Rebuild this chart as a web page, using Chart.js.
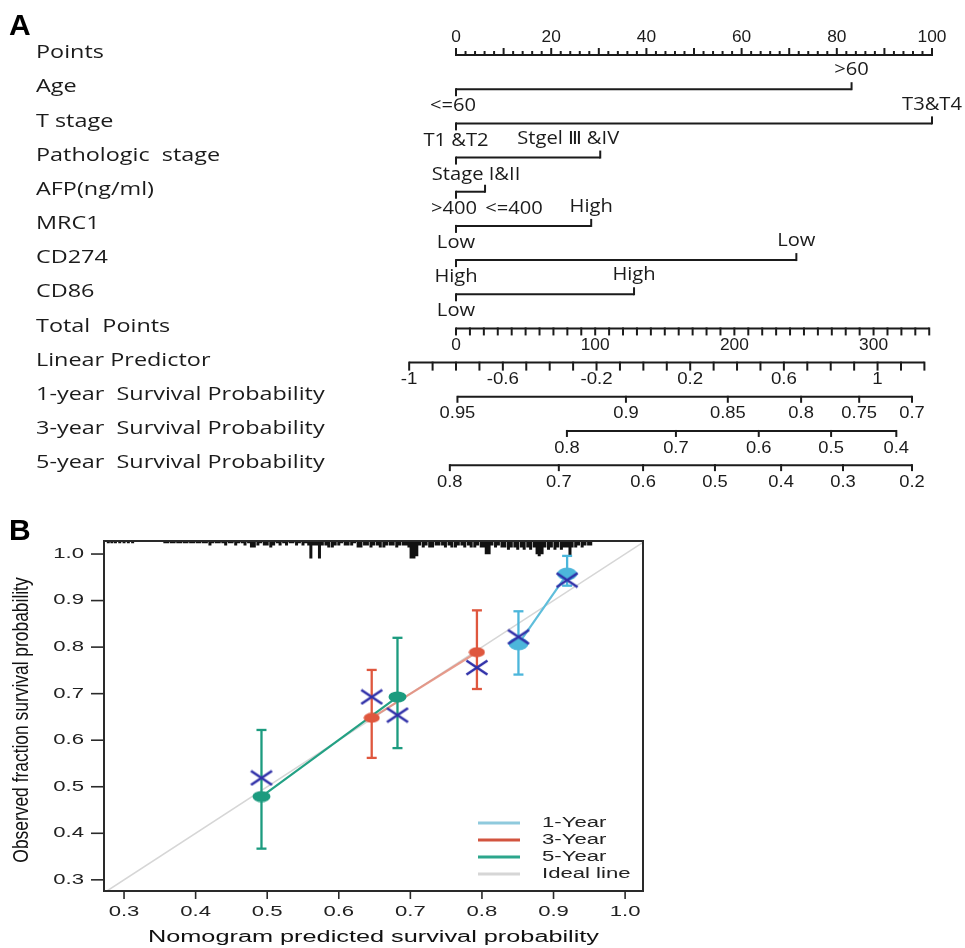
<!DOCTYPE html>
<html lang="en">
<head>
<meta charset="UTF-8">
<title>Nomogram and calibration plot</title>
<script src="https://cdn.jsdelivr.net/npm/chart.js"></script>
<style>
    html, body { margin: 0; padding: 0; background: #ffffff; }
    #figure { position: relative; width: 965px; height: 948px; overflow: hidden; }
    #nomogram { position: absolute; left: 0; top: 0; }
    #calibration { position: absolute; left: 0; top: 500px; }
</style>
</head>
<body>
<div id="figure">
    <canvas id="nomogram" width="965" height="500"></canvas>
    <canvas id="calibration" width="965" height="448"></canvas>
</div>
<script>
// ---------------- Panel A: nomogram data ----------------
const rowNames = ['Points', 'Age', 'T stage', 'Pathologic  stage', 'AFP(ng/ml)', 'MRC1', 'CD274', 'CD86',
    'Total  Points', 'Linear Predictor', '1-year  Survival Probability',
    '3-year  Survival Probability', '5-year  Survival Probability'];
const pointTicks = [0, 20, 40, 60, 80, 100];

const ageLevels = ['<=60', '>60'];
const agePoints = [0, 83.1];
const tStageLevels = ['T1 &T2', 'T3&T4'];
const tStagePoints = [0, 100];
const pathLevels = ['Stage I&II', 'Stgel \u2162 &IV'];
const pathPoints = [0, 30.3];
const afpLevels = ['>400', '<=400'];
const afpPoints = [0, 6.1];
const mrc1Levels = ['Low', 'High'];
const mrc1Points = [0, 28.4];
const cd274Levels = ['High', 'Low'];
const cd274Points = [0, 71.5];
const cd86Levels = ['Low', 'High'];
const cd86Points = [0, 37.4];

const totalTicks = [0, 100, 200, 300];
const totalRange = [0, 340];
const lpTicks = [-1, -0.6, -0.2, 0.2, 0.6, 1];
const lpRange = [-1, 1.2];
const surv1Labels = [0.95, 0.9, 0.85, 0.8, 0.75, 0.7];
const surv1Points = [0.3, 35.7, 57.1, 72.5, 84.7, 95.8];
const surv3Labels = [0.8, 0.7, 0.6, 0.5, 0.4];
const surv3Points = [23.3, 46.2, 63.6, 78.8, 92.5];
const surv5Labels = [0.8, 0.7, 0.6, 0.5, 0.4, 0.3, 0.2];
const surv5Points = [-1.3, 21.6, 39.3, 54.4, 68.3, 81.3, 95.8];

// ---------------- Panel B: calibration data ----------------
const xTicks = [0.3, 0.4, 0.5, 0.6, 0.7, 0.8, 0.9, 1.0];
const yTicks = [0.3, 0.4, 0.5, 0.6, 0.7, 0.8, 0.9, 1.0];
const seriesNames = ['1-Year', '3-Year', '5-Year', 'Ideal line'];

const pred1Y = [0.851, 0.919];
const obs1Y = [0.807, 0.957];
const low1Y = [0.741, 0.932];
const high1Y = [0.877, 0.996];
const km1Y = [0.822, 0.944];

const pred3Y = [0.646, 0.793];
const obs3Y = [0.648, 0.789];
const low3Y = [0.562, 0.710];
const high3Y = [0.751, 0.879];
const km3Y = [0.693, 0.756];

const pred5Y = [0.492, 0.682];
const obs5Y = [0.479, 0.693];
const low5Y = [0.367, 0.583];
const high5Y = [0.622, 0.820];
const km5Y = [0.519, 0.654];

// rug of predicted probabilities along the top: position and relative count
const rugX = [
    0.278, 0.283, 0.288, 0.294, 0.300, 0.306, 0.312,
    0.357, 0.361, 0.366, 0.370, 0.375, 0.379, 0.384, 0.388, 0.393, 0.397, 0.402, 0.406, 0.411, 0.415,
    0.420, 0.424, 0.429, 0.433, 0.438, 0.442, 0.447, 0.451, 0.456, 0.460, 0.465, 0.469, 0.474,
    0.478, 0.482, 0.487, 0.491, 0.496, 0.500, 0.505, 0.509, 0.514, 0.518, 0.523, 0.527, 0.532, 0.536,
    0.541, 0.545, 0.550, 0.554, 0.558,
    0.561, 0.565, 0.569, 0.573, 0.577, 0.582, 0.586, 0.591, 0.595, 0.600, 0.604, 0.609, 0.613, 0.618,
    0.622, 0.627, 0.631, 0.636, 0.640, 0.645, 0.649, 0.654, 0.658, 0.663, 0.667, 0.672, 0.676, 0.681,
    0.685, 0.690, 0.694, 0.698,
    0.701, 0.705, 0.709, 0.713, 0.718, 0.722, 0.727, 0.731, 0.736, 0.740, 0.745, 0.749, 0.754, 0.758,
    0.763, 0.767, 0.772, 0.776, 0.781, 0.785, 0.790, 0.794, 0.799, 0.803,
    0.806, 0.810, 0.814, 0.819, 0.823, 0.828, 0.832, 0.837, 0.841, 0.846, 0.850, 0.855, 0.859, 0.864,
    0.868, 0.873, 0.877, 0.880, 0.884, 0.888, 0.893, 0.897, 0.902, 0.906, 0.911, 0.915, 0.919, 0.923,
    0.926, 0.931, 0.935, 0.940, 0.944, 0.949, 0.952];
const rugN = [
    1, 1, 1, 1, 1, 1, 1,
    1, 1, 1, 1, 1, 1, 1, 1, 1, 1, 1, 1, 1, 1,
    2, 1, 1, 1, 1, 2, 1, 1, 2, 1, 1, 2, 1,
    3, 3, 2, 1, 2, 2, 3, 2, 1, 2, 1, 2, 1, 1,
    2, 1, 2, 1, 2,
    8, 2, 2, 8, 2, 2, 3, 3, 2, 2, 1, 2, 2, 2,
    1, 3, 3, 2, 2, 3, 2, 2, 3, 3, 2, 2, 2, 3,
    2, 2, 2, 3,
    8, 8, 7, 2, 3, 2, 3, 3, 2, 2, 2, 3, 2, 3,
    3, 2, 2, 3, 2, 3, 3, 2, 3, 3,
    6, 6, 2, 3, 2, 3, 3, 4, 3, 3, 4, 3, 4, 3,
    4, 3, 6, 7, 6, 3, 4, 3, 4, 3, 4, 3, 3, 7,
    3, 3, 2, 3, 2, 2, 2];

// ---------------- helpers ----------------
const INK = '#1b1b1b';
const ROW_FONT = '18px "Open Sans"';
const CAT_FONT = '18px "Open Sans"';
const NUM_FONT = '17px "Liberation Sans"';
const B_FONT = '14px "Liberation Sans"';
const B_TITLE = '16px "Liberation Sans"';
const B_STRETCH = 1.58;

const C1 = '#4cb6db', C1_LINE = '#5fbedb', C1_KEY = '#8fcadd';
const C3 = '#df573e', C3_LINE = 'rgba(228, 140, 122, 0.85)', C3_KEY = '#d2543f';
const C5 = '#1c9b7f', C5_LINE = '#23a184', C5_KEY = '#2ca68c';
const IDEAL = '#d6d6d6';
const XMARK = '#2f2fa8';

function text(ctx, str, x, y, font, o = {}) {
    ctx.save();
    ctx.translate(x, y);
    if (o.rotate) ctx.rotate(o.rotate);
    ctx.scale(o.sx || 1, o.sy || 1);
    ctx.font = font;
    ctx.fillStyle = o.color || INK;
    ctx.textAlign = o.align || 'center';
    ctx.textBaseline = o.baseline || 'middle';
    ctx.fillText(str, 0, 0);
    ctx.restore();
}

function ellipseImg(color, w, h) {
    const c = document.createElement('canvas');
    c.width = w; c.height = h;
    const g = c.getContext('2d');
    g.fillStyle = color;
    g.beginPath();
    g.ellipse(w / 2, h / 2, w / 2 - 0.5, h / 2 - 0.5, 0, 0, Math.PI * 2);
    g.fill();
    return c;
}

function crossImg(color, w, h) {
    const c = document.createElement('canvas');
    c.width = w; c.height = h;
    const g = c.getContext('2d');
    g.strokeStyle = color;
    g.lineWidth = 2.6;
    g.beginPath();
    g.moveTo(1.5, 1.5); g.lineTo(w - 1.5, h - 1.5);
    g.moveTo(w - 1.5, 1.5); g.lineTo(1.5, h - 1.5);
    g.stroke();
    return c;
}

// ---------------- Panel A ----------------
const predictors = [
    { levels: ageLevels, points: agePoints },
    { levels: tStageLevels, points: tStagePoints },
    { levels: pathLevels, points: pathPoints },
    { levels: afpLevels, points: afpPoints },
    { levels: mrc1Levels, points: mrc1Points },
    { levels: cd274Levels, points: cd274Points },
    { levels: cd86Levels, points: cd86Points }
];
// label placement quirks of the original figure (by predictor index)
const labelSide = { 3: ['below', 'below'] };
const labelNudge = { 2: [20, -32], 3: [-2, 29], 0: [-3, 0] };

const TOTAL_PER_POINT = 3.42;
const LP_AT_ZERO = -0.8;
const POINTS_PER_LP = 49.2;
const totalToPts = t => t / TOTAL_PER_POINT;
const lpToPts = l => (l - LP_AT_ZERO) * POINTS_PER_LP;

const rowSpans = [
    [pointTicks[0], pointTicks[pointTicks.length - 1]],
    ...predictors.map(p => [p.points[0], p.points[p.points.length - 1]]),
    totalRange.map(totalToPts),
    lpRange.map(lpToPts),
    [surv1Points[0], surv1Points[surv1Points.length - 1]],
    [surv3Points[0], surv3Points[surv3Points.length - 1]],
    [surv5Points[0], surv5Points[surv5Points.length - 1]]
];

const nomogramAxes = {
    id: 'nomogramAxes',
    afterDatasetsDraw(chart) {
        const ctx = chart.ctx;
        const X = v => chart.scales.x.getPixelForValue(v);
        const Y = r => chart.scales.y.getPixelForValue(r);
        ctx.save();
        ctx.strokeStyle = INK;
        ctx.lineWidth = 2;
        const tick = (x, y, len) => { ctx.beginPath(); ctx.moveTo(x, y); ctx.lineTo(x, y + len); ctx.stroke(); };

        text(ctx, 'A', 9, 35, 'bold 30px "Liberation Sans"', { align: 'left', baseline: 'alphabetic', color: '#000' });
        rowNames.forEach((name, r) => text(ctx, name, 36, Y(r) - 2, ROW_FONT, { align: 'left', sx: 1.3 }));

        // Points scale
        for (let p = 0; p <= 100; p += 2) tick(X(p), Y(0) + 1, p % 10 === 0 ? -8 : -5);
        pointTicks.forEach(p => text(ctx, String(p), X(p), Y(0) - 18, NUM_FONT, { sx: 1.02 }));

        // predictors
        predictors.forEach((pr, k) => {
            const r = k + 1;
            const first = pr.points[0], last = pr.points[pr.points.length - 1];
            tick(X(first), Y(r) - 1, 8);
            tick(X(last), Y(r) + 1, -8);
            pr.levels.forEach((lv, i) => {
                const side = (labelSide[k] || [])[i] || (i === 0 ? 'below' : 'above');
                const dx = (labelNudge[k] || [])[i] || 0;
                text(ctx, lv, X(pr.points[i]) + dx, Y(r) + (side === 'above' ? -19 : 17), CAT_FONT, { sx: 1.12 });
            });
        });

        // Total points
        for (let t = totalRange[0]; t <= totalRange[1]; t += 10) tick(X(totalToPts(t)), Y(8) - 1, 8);
        totalTicks.forEach(t => text(ctx, String(t), X(totalToPts(t)), Y(8) + 17, NUM_FONT, { sx: 1.02 }));

        // Linear predictor
        for (let i = 0; i <= Math.round((lpRange[1] - lpRange[0]) * 10); i++) {
            tick(X(lpToPts(lpRange[0] + i / 10)), Y(9) - 1, 9);
        }
        lpTicks.forEach(l => text(ctx, String(l), X(lpToPts(l)), Y(9) + 17, NUM_FONT, { sx: 1.1 }));

        // survival probabilities
        [[surv1Labels, surv1Points], [surv3Labels, surv3Points], [surv5Labels, surv5Points]].forEach(([labs, pts], k) => {
            const r = 10 + k;
            pts.forEach((p, i) => {
                tick(X(p), Y(r) - 1, 7);
                text(ctx, String(labs[i]), X(p), Y(r) + 17, NUM_FONT, { sx: 1.08 });
            });
        });
        ctx.restore();
    }
};

new Chart(document.getElementById('nomogram'), {
    type: 'scatter',
    data: {
        datasets: rowSpans.map((span, r) => ({
            type: 'line',
            data: [{ x: span[0], y: r }, { x: span[1], y: r }],
            borderColor: INK,
            borderWidth: 2,
            pointRadius: 0,
            clip: false
        }))
    },
    options: {
        responsive: false,
        animation: false,
        devicePixelRatio: 1,
        layout: { padding: 0 },
        plugins: { legend: { display: false }, tooltip: { enabled: false } },
        scales: {
            x: { type: 'linear', display: false, min: -95.8, max: 106.93 },
            y: { type: 'linear', display: false, reverse: true, min: -1.61, max: 13.02 }
        }
    },
    plugins: [nomogramAxes]
});

// ---------------- Panel B ----------------
const X_MIN = 0.272, X_MAX = 1.025, Y_MIN = 0.276, Y_MAX = 1.028;
const RUG_UNIT = 0.0047;

const pairs = (xs, ys) => xs.map((x, i) => ({ x, y: ys[i] }));
const bars = (xs, lo, hi) => xs.flatMap((x, i) => [{ x, y: lo[i] }, { x, y: hi[i] }, { x, y: null }]);
const rugData = rugX.flatMap((x, i) => [{ x, y: Y_MAX }, { x, y: Y_MAX - rugN[i] * RUG_UNIT }, { x, y: null }]);

const lineSet = (data, color, width, order) => ({
    type: 'line', data, borderColor: color, borderWidth: width, pointRadius: 0, order
});
const barSet = (data, color) => ({
    type: 'line', data, borderColor: color, borderWidth: 2.3, order: 3,
    pointStyle: 'line', pointRadius: 5, pointBorderColor: color, pointBorderWidth: 2.3
});
const markSet = (data, img, order) => ({
    data, pointStyle: img, pointRadius: 6, order
});

const cross = crossImg(XMARK, 24, 17);

const calibAxes = {
    id: 'calibAxes',
    afterDraw(chart) {
        const { ctx, chartArea: a } = chart;
        const X = v => chart.scales.x.getPixelForValue(v);
        const Y = v => chart.scales.y.getPixelForValue(v);
        ctx.save();
        ctx.strokeStyle = '#2a2a2a';
        ctx.lineWidth = 2;
        ctx.strokeRect(a.left, a.top, a.right - a.left, a.bottom - a.top);
        ctx.lineWidth = 1.6;
        xTicks.forEach(v => {
            ctx.beginPath(); ctx.moveTo(X(v), a.bottom); ctx.lineTo(X(v), a.bottom + 8); ctx.stroke();
            text(ctx, v.toFixed(1), X(v), a.bottom + 21, B_FONT, { sx: B_STRETCH, color: '#222' });
        });
        yTicks.forEach(v => {
            ctx.beginPath(); ctx.moveTo(a.left, Y(v)); ctx.lineTo(a.left - 13, Y(v)); ctx.stroke();
            text(ctx, v.toFixed(1), a.left - 20, Y(v), B_FONT, { sx: B_STRETCH, align: 'right', color: '#222' });
        });
        text(ctx, 'Nomogram predicted survival probability', (a.left + a.right) / 2, a.bottom + 47, B_TITLE,
            { sx: B_STRETCH, color: '#111' });
        text(ctx, 'Observed fraction survival probability', 22, (a.top + a.bottom) / 2 + 4, '15px "Liberation Sans"',
            { rotate: -Math.PI / 2, sx: 1.16, sy: 1.42, color: '#111' });
        text(ctx, 'B', 9, 40, 'bold 30px "Liberation Sans"', { align: 'left', baseline: 'alphabetic', color: '#000' });

        // legend
        const keyColors = [C1_KEY, C3_KEY, C5_KEY, IDEAL];
        seriesNames.forEach((name, i) => {
            const y = a.bottom - 68 + i * 17;
            ctx.strokeStyle = keyColors[i];
            ctx.lineWidth = 3;
            ctx.beginPath(); ctx.moveTo(a.right - 165, y); ctx.lineTo(a.right - 123, y); ctx.stroke();
            text(ctx, name, a.right - 101, y, B_FONT, { sx: B_STRETCH, align: 'left', color: '#222' });
        });
        ctx.restore();
    }
};

new Chart(document.getElementById('calibration'), {
    type: 'scatter',
    data: {
        datasets: [
            Object.assign(lineSet([{ x: 0, y: 0 }, { x: 1.2, y: 1.2 }], IDEAL, 1.6, 6), { clip: 0 }),
            lineSet(rugData, '#111', 3, 5),
            lineSet(pairs(pred5Y, obs5Y), C5_LINE, 2.2, 4),
            lineSet(pairs(pred3Y, obs3Y), C3_LINE, 2.2, 4),
            lineSet(pairs(pred1Y, obs1Y), C1_LINE, 2.2, 4),
            barSet(bars(pred5Y, low5Y, high5Y), C5),
            barSet(bars(pred3Y, low3Y, high3Y), C3),
            barSet(bars(pred1Y, low1Y, high1Y), C1),
            markSet(pairs(pred5Y, obs5Y), ellipseImg(C5, 19, 12), 2),
            markSet(pairs(pred3Y, obs3Y), ellipseImg(C3, 17, 11), 2),
            markSet(pairs(pred1Y, obs1Y), ellipseImg(C1, 21, 14), 2),
            markSet(pairs(pred5Y, km5Y), cross, 1),
            markSet(pairs(pred3Y, km3Y), cross, 1),
            markSet(pairs(pred1Y, km1Y), cross, 1)
        ]
    },
    options: {
        responsive: false,
        animation: false,
        devicePixelRatio: 1,
        layout: { padding: { left: 104, right: 322, top: 41, bottom: 57 } },
        plugins: { legend: { display: false }, tooltip: { enabled: false } },
        scales: {
            x: { type: 'linear', display: false, min: X_MIN, max: X_MAX },
            y: { type: 'linear', display: false, min: Y_MIN, max: Y_MAX }
        }
    },
    plugins: [calibAxes]
});
</script>
</body>
</html>
